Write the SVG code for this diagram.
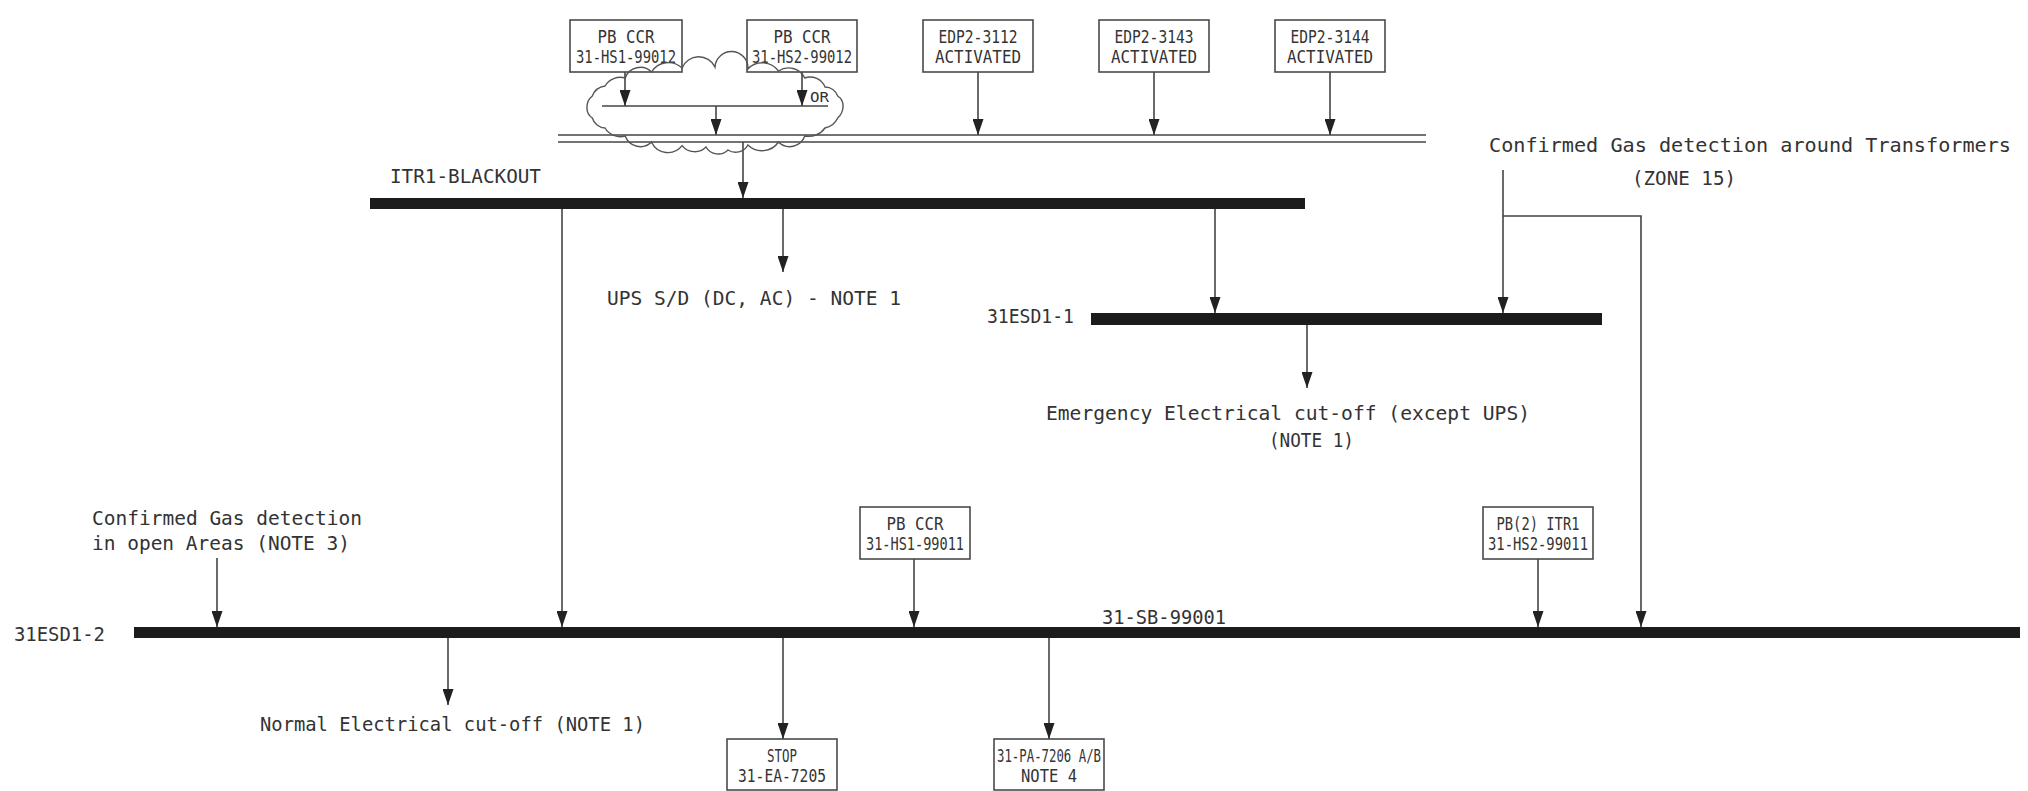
<svg xmlns="http://www.w3.org/2000/svg" width="2028" height="791" viewBox="0 0 2028 791">
<style>
  .bg{fill:#ffffff}
  .bar{fill:#1c1c1c}
  .box{fill:#ffffff;stroke:#4a4a4a;stroke-width:1.6}
  .ln{fill:none;stroke:#444;stroke-width:1.6}
  .arr{fill:none;stroke:#444;stroke-width:1.6;marker-end:url(#ah)}
  .cloud{fill:none;stroke:#555;stroke-width:1.4}
  text{font-family:"DejaVu Sans Mono","Liberation Mono",monospace;fill:#333}
  .lbl{font-size:19px}
  .bx{font-size:18px;text-anchor:middle}
  .sm{font-size:14px}
</style>
<defs>
  <marker id="ah" markerUnits="userSpaceOnUse" markerWidth="16" markerHeight="11" viewBox="0 0 16 11" refX="16" refY="5.5" orient="auto">
    <path d="M0,0 L16,5.5 L0,11 z" fill="#222"/>
  </marker>
</defs>
<rect class="bg" x="0" y="0" width="2028" height="791"/>

<g id="connectors">
  <line class="arr" x1="625" y1="72" x2="625" y2="106"/>
  <line class="arr" x1="802" y1="72" x2="802" y2="106"/>
  <line class="ln" x1="602" y1="106" x2="828" y2="106"/>
  <line class="arr" x1="716" y1="106" x2="716" y2="135"/>
  <line class="arr" x1="978" y1="72" x2="978" y2="135"/>
  <line class="arr" x1="1154" y1="72" x2="1154" y2="135"/>
  <line class="arr" x1="1330" y1="72" x2="1330" y2="135"/>
  <line class="ln" x1="558" y1="135" x2="1426" y2="135"/>
  <line class="ln" x1="558" y1="142" x2="1426" y2="142"/>
  <line class="arr" x1="743" y1="142" x2="743" y2="198"/>
  <line class="arr" x1="783" y1="209" x2="783" y2="272"/>
  <line class="arr" x1="1215" y1="209" x2="1215" y2="313"/>
  <line class="arr" x1="562" y1="209" x2="562" y2="627"/>
  <line class="arr" x1="1503" y1="170" x2="1503" y2="313"/>
  <polyline class="arr" points="1503,216 1641,216 1641,627"/>
  <line class="arr" x1="1307" y1="325" x2="1307" y2="388"/>
  <line class="arr" x1="217" y1="558" x2="217" y2="627"/>
  <line class="arr" x1="914" y1="559" x2="914" y2="627"/>
  <line class="arr" x1="1538" y1="559" x2="1538" y2="627"/>
  <line class="arr" x1="448" y1="638" x2="448" y2="705"/>
  <line class="arr" x1="783" y1="638" x2="783" y2="739"/>
  <line class="arr" x1="1049" y1="638" x2="1049" y2="739"/>
</g>

<g id="box-hs1-99012">
  <rect class="box" x="570" y="20" width="112" height="52"/>
  <text class="bx" x="626" y="43" textLength="57" lengthAdjust="spacingAndGlyphs">PB CCR</text>
  <text class="bx" x="626" y="63" textLength="100" lengthAdjust="spacingAndGlyphs">31-HS1-99012</text>
</g>
<g id="box-hs2-99012">
  <rect class="box" x="747" y="20" width="110" height="52"/>
  <text class="bx" x="802" y="43" textLength="57" lengthAdjust="spacingAndGlyphs">PB CCR</text>
  <text class="bx" x="802" y="63" textLength="100" lengthAdjust="spacingAndGlyphs">31-HS2-99012</text>
</g>

<g id="cloud">
  <path class="cloud" d="M843,107 A16,16 0 0 1 837.7,118 A18,18 0 0 1 825,128 A20,20 0 0 1 804.8,136 A16,16 0 0 1 778.5,142 A20,20 0 0 1 747.9,145 A14,14 0 0 1 728,150 A14,14 0 0 1 706,147 A16,16 0 0 1 682.1,145.6 A18,18 0 0 1 651.5,142 A16,16 0 0 1 625.2,136 A18,18 0 0 1 605,128 A14,14 0 0 1 592.3,118 A12,12 0 0 1 587,107 A14,14 0 0 1 592.3,96 A16,16 0 0 1 605,86 A18,18 0 0 1 625.2,78 A16,16 0 0 1 651.5,72 A20,20 0 0 1 682.1,68 A18,18 0 0 1 715,67 A16,16 0 0 1 747.9,69 A20,20 0 0 1 778.5,71 A18,18 0 0 1 804.8,78 A16,16 0 0 1 825,87 A14,14 0 0 1 837.7,96 A12,12 0 0 1 843,107 z"/>
  <text class="sm" x="810" y="102" textLength="19" lengthAdjust="spacingAndGlyphs">OR</text>
</g>

<g id="box-edp2-3112">
  <rect class="box" x="923" y="20" width="110" height="52"/>
  <text class="bx" x="978" y="43" textLength="79" lengthAdjust="spacingAndGlyphs">EDP2-3112</text>
  <text class="bx" x="978" y="63" textLength="86" lengthAdjust="spacingAndGlyphs">ACTIVATED</text>
</g>
<g id="box-edp2-3143">
  <rect class="box" x="1099" y="20" width="110" height="52"/>
  <text class="bx" x="1154" y="43" textLength="79" lengthAdjust="spacingAndGlyphs">EDP2-3143</text>
  <text class="bx" x="1154" y="63" textLength="86" lengthAdjust="spacingAndGlyphs">ACTIVATED</text>
</g>
<g id="box-edp2-3144">
  <rect class="box" x="1275" y="20" width="110" height="52"/>
  <text class="bx" x="1330" y="43" textLength="79" lengthAdjust="spacingAndGlyphs">EDP2-3144</text>
  <text class="bx" x="1330" y="63" textLength="86" lengthAdjust="spacingAndGlyphs">ACTIVATED</text>
</g>

<g id="itr1-blackout">
  <rect class="bar" x="370" y="198" width="935" height="11"/>
  <text class="lbl" x="390" y="183" textLength="151" lengthAdjust="spacingAndGlyphs">ITR1-BLACKOUT</text>
</g>
<g id="ups-sd">
  <text class="lbl" x="607" y="305" textLength="294" lengthAdjust="spacingAndGlyphs">UPS S/D (DC, AC) - NOTE 1</text>
</g>

<g id="transformers-gas">
  <text class="lbl" x="1489" y="152" textLength="522" lengthAdjust="spacingAndGlyphs">Confirmed Gas detection around Transformers</text>
  <text class="lbl" x="1632" y="185" textLength="104" lengthAdjust="spacingAndGlyphs">(ZONE 15)</text>
</g>

<g id="esd1-1">
  <rect class="bar" x="1091" y="313" width="511" height="12"/>
  <text class="lbl" x="987" y="323" textLength="87" lengthAdjust="spacingAndGlyphs">31ESD1-1</text>
</g>
<g id="emergency-cutoff">
  <text class="lbl" x="1046" y="420" textLength="484" lengthAdjust="spacingAndGlyphs">Emergency Electrical cut-off (except UPS)</text>
  <text class="lbl" x="1269" y="447" textLength="85" lengthAdjust="spacingAndGlyphs">(NOTE 1)</text>
</g>

<g id="open-areas-gas">
  <text class="lbl" x="92" y="525" textLength="270" lengthAdjust="spacingAndGlyphs">Confirmed Gas detection</text>
  <text class="lbl" x="92" y="550" textLength="258" lengthAdjust="spacingAndGlyphs">in open Areas (NOTE 3)</text>
</g>

<g id="box-hs1-99011">
  <rect class="box" x="860" y="507" width="110" height="52"/>
  <text class="bx" x="915" y="530" textLength="57" lengthAdjust="spacingAndGlyphs">PB CCR</text>
  <text class="bx" x="915" y="550" textLength="98" lengthAdjust="spacingAndGlyphs">31-HS1-99011</text>
</g>
<g id="box-hs2-99011">
  <rect class="box" x="1483" y="507" width="110" height="52"/>
  <text class="bx" x="1538" y="530" textLength="83" lengthAdjust="spacingAndGlyphs">PB(2) ITR1</text>
  <text class="bx" x="1538" y="550" textLength="100" lengthAdjust="spacingAndGlyphs">31-HS2-99011</text>
</g>

<g id="esd1-2">
  <rect class="bar" x="134" y="627" width="1886" height="11"/>
  <text class="lbl" x="14" y="641" textLength="91" lengthAdjust="spacingAndGlyphs">31ESD1-2</text>
  <text class="lbl" x="1102" y="624" textLength="124" lengthAdjust="spacingAndGlyphs">31-SB-99001</text>
</g>

<g id="normal-cutoff">
  <text class="lbl" x="260" y="731" textLength="385" lengthAdjust="spacingAndGlyphs">Normal Electrical cut-off (NOTE 1)</text>
</g>

<g id="box-stop">
  <rect class="box" x="727" y="739" width="110" height="51"/>
  <text class="bx" x="782" y="762" textLength="30" lengthAdjust="spacingAndGlyphs">STOP</text>
  <text class="bx" x="782" y="782" textLength="88" lengthAdjust="spacingAndGlyphs">31-EA-7205</text>
</g>
<g id="box-pa-7206">
  <rect class="box" x="994" y="739" width="110" height="51"/>
  <text class="bx" x="1049" y="762" textLength="104" lengthAdjust="spacingAndGlyphs">31-PA-7206 A/B</text>
  <text class="bx" x="1049" y="782" textLength="56" lengthAdjust="spacingAndGlyphs">NOTE 4</text>
</g>
</svg>
